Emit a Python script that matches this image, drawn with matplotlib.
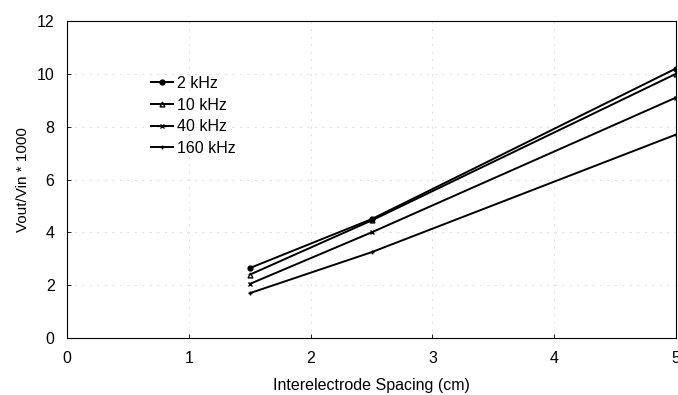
import matplotlib.pyplot as plt

plt.rcParams['font.family'] = ['Liberation Sans', 'DejaVu Sans']

spacing = [1.5, 2.5, 5.0]
series_names = ['2 kHz', '10 kHz', '40 kHz', '160 kHz']
v_2k = [2.65, 4.5, 10.2]
v_10k = [2.4, 4.45, 10.0]
v_40k = [2.05, 4.0, 9.1]
v_160k = [1.7, 3.25, 7.7]
markers = ['o', '^', 'x', '+']

fig = plt.figure(figsize=(6.78, 3.95), dpi=100)
ax = fig.add_axes([0.099, 0.144, 0.898, 0.803])

for vals, name, m in zip([v_2k, v_10k, v_40k, v_160k], series_names, markers):
    ax.plot(spacing, vals, color='black', linewidth=1.4, marker=m,
            markersize=3.5, markerfacecolor='black' if m == 'o' else 'none',
            markeredgecolor='black', markeredgewidth=1.0, label=name)

ax.set_xlim(0, 5)
ax.set_ylim(0, 12)
ax.set_xticks(range(0, 6))
ax.set_yticks(range(0, 13, 2))
ax.grid(True, color='#d4d4d4', linewidth=0.6, linestyle=(0, (2, 7)))
ax.tick_params(direction='in', length=3, width=0.6, labelsize=11.5, pad=9)
for s in ax.spines.values():
    s.set_linewidth(0.8)

ax.set_xlabel('Interelectrode Spacing (cm)', fontsize=11.5, labelpad=9)
ax.set_ylabel('Vout/Vin * 1000', fontsize=11, labelpad=5)

leg = ax.legend(loc='upper left', bbox_to_anchor=(0.127, 0.847), frameon=False,
                fontsize=11.5, handlelength=1.4, handletextpad=0.25,
                labelspacing=0.42, borderaxespad=0)

fig.savefig('out.png', dpi=100)
